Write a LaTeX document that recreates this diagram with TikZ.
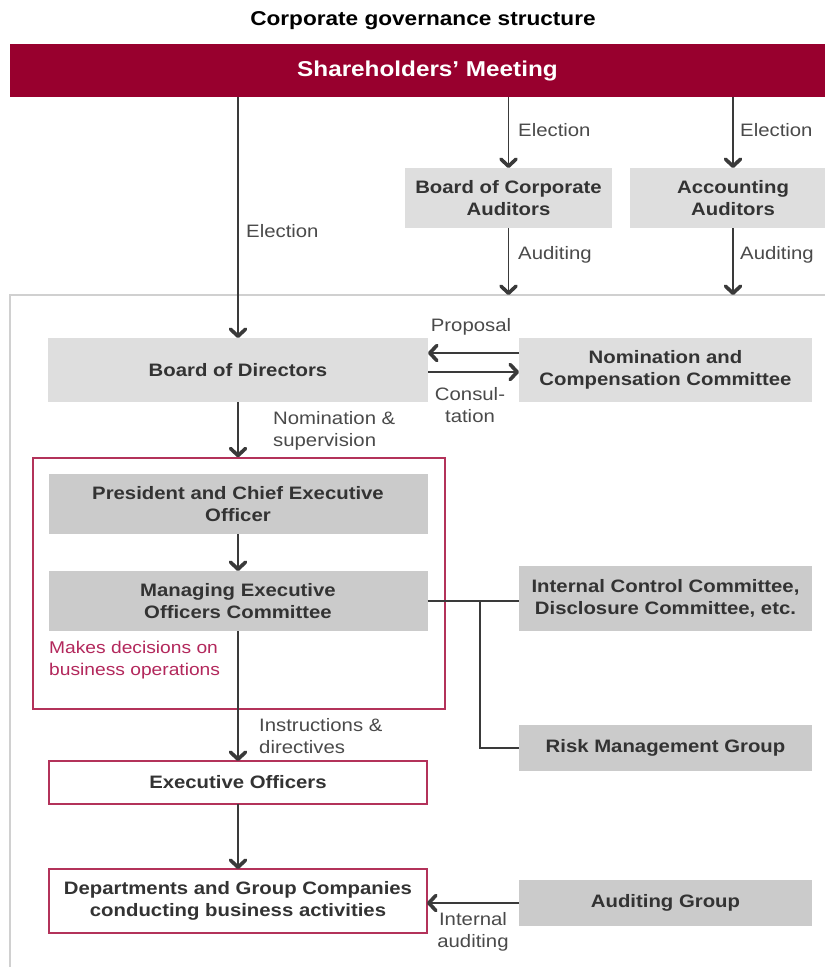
\documentclass[tikz,border=0pt]{standalone}
\usepackage{fontspec}
\setmainfont[FakeStretch=1.13]{Liberation Sans}
\usetikzlibrary{arrows.meta}
\definecolor{banner}{HTML}{98002E}
\definecolor{lightbox}{HTML}{DEDEDE}
\definecolor{darkbox}{HTML}{CBCBCB}
\definecolor{boxtext}{HTML}{333333}
\definecolor{lbltext}{HTML}{4A4A4A}
\definecolor{redline}{HTML}{B3325A}
\definecolor{redtext}{HTML}{B3285C}
\definecolor{lncol}{HTML}{3A3A3A}
\definecolor{framecol}{HTML}{D0D0D0}
\tikzset{
  boxbase/.style={inner sep=0pt, outer sep=0pt, align=center, text=boxtext,
    font=\fontsize{18}{22.5}\selectfont\bfseries},
  litebox/.style={boxbase, fill=lightbox},
  darkgray/.style={boxbase, fill=darkbox},
  redbox/.style={boxbase, draw=redline, line width=1.4pt, fill=white},
  lbl/.style={inner sep=0pt, align=left, text=lbltext, font=\fontsize{18}{22.5}\selectfont},
  ln/.style={draw=lncol, line width=1.6pt},
  arr/.style={ln, -{Straight Barb[length=7pt,width=15pt,line width=3.6pt,round]}},
}
\begin{document}
\begin{tikzpicture}[x=1pt,y=-1pt]
\clip (0,0) rectangle (825,967);
\fill[white] (0,0) rectangle (825,967);
% title
\node[inner sep=0pt, font=\fontsize{20}{24}\selectfont\bfseries] (title) at (423,21) {Corporate governance structure};
% banner
\node[fill=banner, inner sep=0pt, minimum width=835pt, minimum height=53pt, text=white,
  font=\fontsize{21.5}{26}\selectfont\bfseries] (sm) at (427.5,70.5) {Shareholders’ Meeting};
% frame
\coordinate (ftop) at (10,295);
\draw[framecol, line width=2pt] (830,295) -- (ftop) -- (10,970);
% red group box
\node[draw=redline, line width=1.4pt, inner sep=0pt, minimum width=412pt, minimum height=251pt] (grp) at (239,583.5) {};
% boxes
\node[litebox, minimum width=207pt, minimum height=60pt] (bca) at (508.5,198) {Board of Corporate\\Auditors};
\node[litebox, minimum width=206pt, minimum height=60pt] (aa) at (733,198) {Accounting\\Auditors};
\node[litebox, minimum width=380pt, minimum height=64pt] (bod) at (238,370) {Board of Directors};
\node[litebox, minimum width=293pt, minimum height=64pt] (ncc) at (665.5,370) {Nomination and\\Compensation Committee};
\node[darkgray, minimum width=379pt, minimum height=60pt] (pceo) at (238,504) {President and Chief Executive\\Officer};
\node[darkgray, minimum width=379pt, minimum height=60pt] (meoc) at (238,601) {Managing Executive\\Officers Committee};
\node[darkgray, minimum width=293pt, minimum height=65pt] (icc) at (665.5,598.5) {Internal Control Committee,\\Disclosure Committee, etc.};
\node[darkgray, minimum width=293pt, minimum height=46pt] (rmg) at (665.5,748) {Risk Management Group};
\node[redbox, minimum width=378pt, minimum height=43pt] (eo) at (238,782.5) {Executive Officers};
\node[redbox, minimum width=378pt, minimum height=64pt] (dep) at (238,901) {Departments and Group Companies\\conducting business activities};
\node[darkgray, minimum width=293pt, minimum height=46pt] (ag) at (665.5,903) {Auditing Group};
% connectors
\draw[arr] (bod.north |- sm.south) -- (bod.north);
\draw[arr] (bca.north |- sm.south) -- (bca.north);
\draw[arr] (aa.north |- sm.south) -- (aa.north);
\draw[arr] (bca.south) -- (bca.south |- ftop);
\draw[arr] (aa.south) -- (aa.south |- ftop);
\draw[arr] ([yshift=17pt]ncc.west) -- ([yshift=17pt]ncc.west -| bod.east);
\draw[arr] ([yshift=-2pt]bod.east) -- ([yshift=-2pt]bod.east -| ncc.west);
\draw[arr] (bod.south) -- (bod.south |- grp.north);
\draw[arr] (pceo.south) -- (pceo.south |- meoc.north);
\coordinate (br) at (480,601);
\draw[ln] (meoc.east) -- (meoc.east -| icc.west);
\draw[ln] (br) |- (rmg.west);
\draw[arr] (meoc.south) -- (meoc.south |- eo.north);
\draw[arr] (eo.south) -- (eo.south |- dep.north);
\draw[arr] (ag.west) -- (ag.west -| dep.east);
% labels
\node[lbl, anchor=west] (l1) at (246,231) {Election};
\node[lbl, anchor=west] (l2) at (518,130) {Election};
\node[lbl, anchor=west] (l3) at (740,130) {Election};
\node[lbl, anchor=west] (l4) at (518,255) {Auditing};
\node[lbl, anchor=west] (l5) at (740,255) {Auditing};
\node[lbl, align=center] (l6) at (471,327) {Proposal};
\node[lbl, align=center] (l7) at (470,405) {Consul-\\tation};
\node[lbl, anchor=west] (l8) at (273,431) {Nomination \&\\supervision};
\node[lbl, anchor=west, text=redtext, font=\fontsize{17}{21.5}\selectfont] (l9) at (49,660) {Makes decisions on\\business operations};
\node[lbl, anchor=west] (l10) at (259,736) {Instructions \&\\directives};
\node[lbl, align=center] (l11) at (473,932) {Internal\\auditing};
\end{tikzpicture}
\end{document}
